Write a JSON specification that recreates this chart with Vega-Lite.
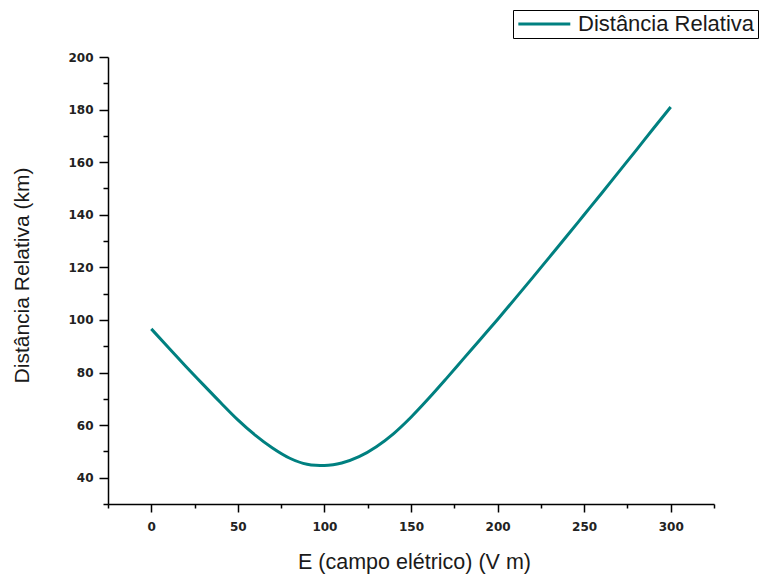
{
  "$schema": "https://vega.github.io/schema/vega-lite/v6.json",
  "width": 606,
  "height": 447,
  "autosize": {"type": "none"},
  "padding": {"left": 108, "top": 57, "right": 48, "bottom": 71},
  "background": "white",
  "config": {"view": {"stroke": null}},
  "data": {"values": [
    {"E": 0, "D": 96.6}, {"E": 10, "D": 89.4}, {"E": 20, "D": 82.3}, {"E": 30, "D": 75.4},
    {"E": 40, "D": 68.6}, {"E": 50, "D": 62.0}, {"E": 60, "D": 56.2}, {"E": 70, "D": 51.3},
    {"E": 80, "D": 47.4}, {"E": 90, "D": 45.1}, {"E": 95, "D": 44.7}, {"E": 100, "D": 44.6},
    {"E": 105, "D": 44.9}, {"E": 110, "D": 45.6}, {"E": 120, "D": 48.0}, {"E": 130, "D": 51.8},
    {"E": 140, "D": 56.8}, {"E": 150, "D": 63.0}, {"E": 160, "D": 70.0}, {"E": 170, "D": 77.4},
    {"E": 180, "D": 85.0}, {"E": 190, "D": 92.6}, {"E": 200, "D": 100.2}, {"E": 210, "D": 108.0},
    {"E": 220, "D": 115.9}, {"E": 230, "D": 123.9}, {"E": 240, "D": 131.9}, {"E": 250, "D": 140.0},
    {"E": 260, "D": 148.1}, {"E": 270, "D": 156.3}, {"E": 280, "D": 164.5}, {"E": 290, "D": 172.8},
    {"E": 300, "D": 181.0}
  ]},
  "mark": {"type": "line", "strokeWidth": 3, "interpolate": "monotone"},
  "encoding": {
    "x": {
      "field": "E", "type": "quantitative",
      "scale": {"domain": [-25, 325], "nice": false, "zero": false},
      "axis": {
        "title": "E (campo elétrico) (V m)",
        "values": [-25, 0, 25, 50, 75, 100, 125, 150, 175, 200, 225, 250, 275, 300, 325],
        "labelExpr": "datum.value % 50 === 0 ? datum.label : ''",
        "grid": false,
        "domainColor": "#000", "domainWidth": 1.5,
        "tickColor": "#000", "tickWidth": 1.5,
        "tickSize": {"condition": {"test": "datum.value % 50 === 0", "value": 8}, "value": 4},
        "labelPadding": 9,
        "labelFont": "DejaVu Sans", "labelFontSize": 12, "labelFontWeight": "bold", "labelColor": "#222",
        "labelFlush": false, "labelOverlap": false,
        "titleFont": "Liberation Sans", "titleFontSize": 21.5, "titleFontWeight": "normal", "titleColor": "#1a1a1a",
        "titleX": 306, "titleY": 64, "titleAlign": "center", "titleBaseline": "alphabetic"
      }
    },
    "y": {
      "field": "D", "type": "quantitative",
      "scale": {"domain": [30, 200], "nice": false, "zero": false},
      "axis": {
        "title": "Distância Relativa (km)",
        "values": [30, 40, 50, 60, 70, 80, 90, 100, 110, 120, 130, 140, 150, 160, 170, 180, 190, 200],
        "labelExpr": "datum.value % 20 === 0 ? datum.label : ''",
        "grid": false,
        "domainColor": "#000", "domainWidth": 1.5,
        "tickColor": "#000", "tickWidth": 1.5,
        "tickSize": {"condition": {"test": "datum.value % 20 === 0", "value": 9}, "value": 5},
        "labelPadding": 6,
        "labelFont": "DejaVu Sans", "labelFontSize": 12, "labelFontWeight": "bold", "labelColor": "#222",
        "labelFlush": false, "labelOverlap": false,
        "titleFont": "Liberation Sans", "titleFontSize": 21, "titleFontWeight": "normal", "titleColor": "#1a1a1a",
        "titleX": -86, "titleY": 218, "titleAngle": -90, "titleAlign": "center", "titleBaseline": "middle"
      }
    },
    "color": {
      "datum": "Distância Relativa",
      "scale": {"range": ["#008080"]},
      "legend": {
        "title": null,
        "orient": "none", "legendX": 405, "legendY": -47,
        "strokeColor": "#000", "fillColor": "#fff",
        "padding": 3,
        "symbolType": "M-1,0H5", "symbolSize": 300, "symbolStrokeWidth": 3,
        "labelFont": "Liberation Sans", "labelFontSize": 22, "labelColor": "#1a1a1a",
        "labelOffset": 40, "labelLimit": 400
      }
    }
  }
}
